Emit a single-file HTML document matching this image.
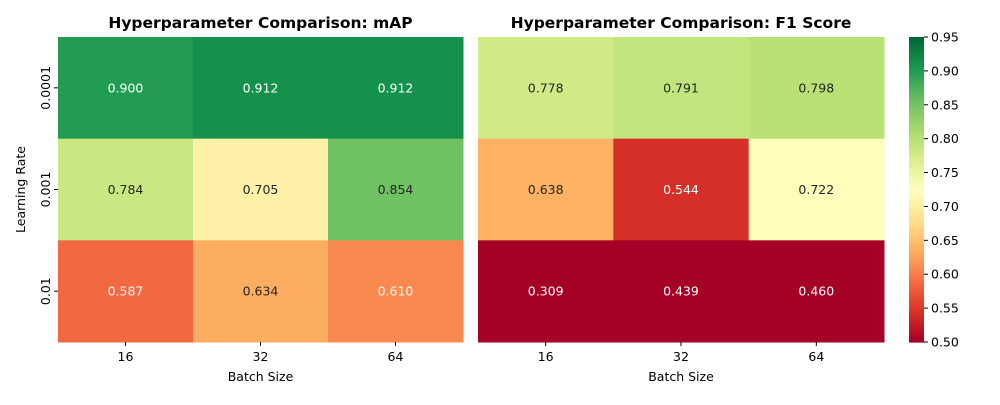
<!DOCTYPE html>
<html><head><meta charset="utf-8"><style>
body{margin:0;background:#fff;font-family:"Liberation Sans","DejaVu Sans",sans-serif;}
svg text{font-family:"DejaVu Sans","Liberation Sans",sans-serif;}
</style></head><body>
<svg id="chart" width="1000" height="400" xmlns="http://www.w3.org/2000/svg"></svg>
<script>
const batchSizes = ["16","32","64"];
const learningRates = ["0.0001","0.001","0.01"];
const mapValues = [[0.900,0.912,0.912],[0.784,0.705,0.854],[0.587,0.634,0.610]];
const f1Values = [[0.778,0.791,0.798],[0.638,0.544,0.722],[0.309,0.439,0.460]];
const cbarTicks = [0.50,0.55,0.60,0.65,0.70,0.75,0.80,0.85,0.90,0.95];
const vmin = 0.5, vmax = 0.95;

const stops = ["#a50026","#d73027","#f46d43","#fdae61","#fee08b","#ffffbf","#d9ef8b","#a6d96a","#66bd63","#1a9850","#006837"].map(h=>[parseInt(h.slice(1,3),16),parseInt(h.slice(3,5),16),parseInt(h.slice(5,7),16)]);
function cmap(v){let t=(v-vmin)/(vmax-vmin);t=Math.max(0,Math.min(1,t));const p=t*10;const i=Math.min(9,Math.floor(p));const f=p-i;
 return stops[i].map((c,k)=>Math.round(c+(stops[i+1][k]-c)*f));}
function lum(rgb){const l=rgb.map(c=>{c/=255;return c<=0.03928?c/12.92:Math.pow((c+0.055)/1.055,2.4)});return 0.2126*l[0]+0.7152*l[1]+0.0722*l[2];}
const svg=document.getElementById('chart');const NS="http://www.w3.org/2000/svg";
function el(tag,attrs,parent){const e=document.createElementNS(NS,tag);for(const k in attrs)e.setAttribute(k,attrs[k]);(parent||svg).appendChild(e);return e;}
const plotTop=37,plotBottom=342;
const FS=12.5;
function yScale(i){return plotTop+i*(plotBottom-plotTop)/3;}
function drawHeat(x0,x1,vals,title,name,showY){
 const g=el('g',{});
 
 
 const cw=(x1-x0)/3,ch=(plotBottom-plotTop)/3;
 vals.forEach((row,r)=>row.forEach((v,c)=>{
  const rgb=cmap(v);
  const rc=el('rect',{x:x0+c*cw,y:yScale(r),width:cw+0.5,height:ch+0.5,fill:`rgb(${rgb})`},g);
  
  
  const t=el('text',{x:x0+c*cw+cw/2,y:yScale(r)+ch/2+4.5,'text-anchor':'middle','font-size':FS,fill:lum(rgb)>0.408?'#262626':'#fff'},g);
  t.textContent=v.toFixed(3);
  
  
 }));
 batchSizes.forEach((b,c)=>{const x=x0+c*cw+cw/2;el('line',{x1:x,x2:x,y1:plotBottom,y2:plotBottom+4,stroke:'#000'},g);
  const t=el('text',{x:x,y:plotBottom+19,'text-anchor':'middle','font-size':FS},g);t.textContent=b;
  });
 const xt=el('text',{x:(x0+x1)/2,y:381,'text-anchor':'middle','font-size':FS},g);xt.textContent='Batch Size';
 
 const tt=el('text',{x:(x0+x1)/2,y:28,'text-anchor':'middle','font-size':15.5,'font-weight':'bold'},g);tt.textContent=title;
 
 if(showY){learningRates.forEach((lr,r)=>{const y=yScale(r)+ch/2;el('line',{x1:x0-4,x2:x0,y1:y,y2:y,stroke:'#000'},g);
  const t=el('text',{transform:`translate(${x0-8},${y}) rotate(-90)`,'text-anchor':'middle','font-size':FS},g);t.textContent=lr;
  });
  const yt=el('text',{transform:`translate(25,${(plotTop+plotBottom)/2}) rotate(-90)`,'text-anchor':'middle','font-size':FS},g);yt.textContent='Learning Rate';
  }
}
drawHeat(58,463,mapValues,'Hyperparameter Comparison: mAP','map-heatmap',true);
drawHeat(478,884,f1Values,'Hyperparameter Comparison: F1 Score','f1-heatmap',false);
const cb=el('g',{});


const cx=909,cwid=15,N=120;
for(let i=0;i<N;i++){const v=vmin+(vmax-vmin)*(i+0.5)/N;const y=plotBottom-(i+1)*(plotBottom-plotTop)/N;
 el('rect',{x:cx,y:y,width:cwid,height:(plotBottom-plotTop)/N+0.6,fill:`rgb(${cmap(v)})`},cb);}
function cy(v){return plotBottom-(v-vmin)/(vmax-vmin)*(plotBottom-plotTop);}
cbarTicks.forEach(v=>{const y=cy(v);el('line',{x1:cx+cwid,x2:cx+cwid+4,y1:y,y2:y,stroke:'#000'},cb);
 const t=el('text',{x:cx+cwid+7,y:y+4.5,'font-size':FS},cb);t.textContent=v.toFixed(2);
 });
</script>
</body></html>
